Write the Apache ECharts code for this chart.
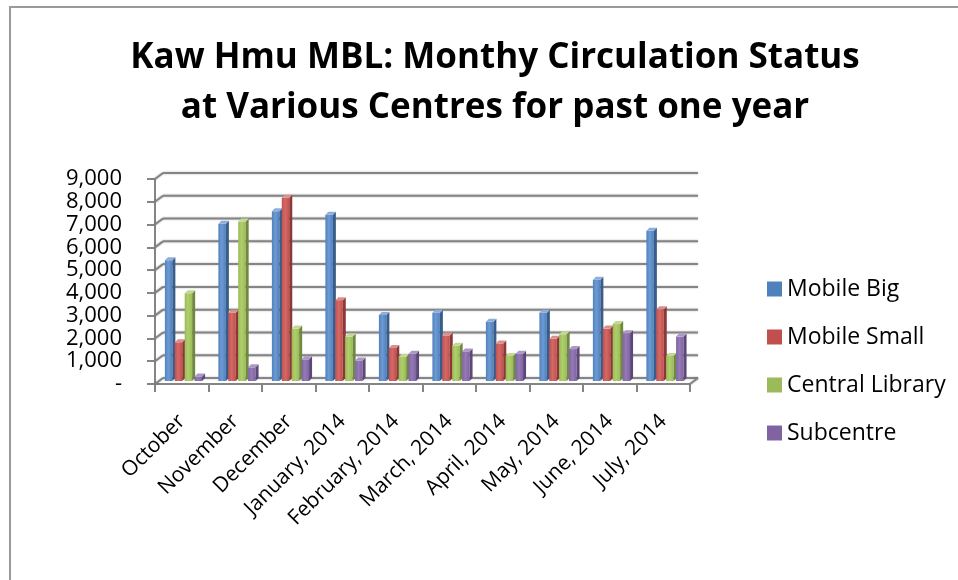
<!DOCTYPE html>
<html>
<head>
<meta charset="utf-8">
<script src="https://cdn.jsdelivr.net/npm/echarts@6/dist/echarts.min.js"></script>
<style>
  html, body { margin: 0; padding: 0; background: #fff; }
  #main { width: 958px; height: 580px; }
</style>
</head>
<body>
<div id="main"></div>
<script>
var categories = ['October', 'November', 'December', 'January, 2014', 'February, 2014',
    'March, 2014', 'April, 2014', 'May, 2014', 'June, 2014', 'July, 2014'];
var mobileBig = [5300, 6900, 7450, 7300, 2900, 3000, 2600, 3000, 4450, 6600];
var mobileSmall = [1700, 3000, 8050, 3550, 1450, 2000, 1650, 1850, 2300, 3150];
var centralLibrary = [3850, 7000, 2300, 1950, 1050, 1550, 1100, 2050, 2500, 1100];
var subcentre = [200, 600, 950, 900, 1200, 1300, 1200, 1400, 2100, 1950];
var yTicks = [0, 1000, 2000, 3000, 4000, 5000, 6000, 7000, 8000, 9000];

var seriesNames = ['Mobile Big', 'Mobile Small', 'Central Library', 'Subcentre'];
var seriesData = [mobileBig, mobileSmall, centralLibrary, subcentre];
// front / side / top / highlight
var palette = [
    ['#4F81BD', '#385D8A', '#8DAEDC', '#6E9AD3'],
    ['#C0504D', '#8C3836', '#DB8F8D', '#D56966'],
    ['#9BBB59', '#71893F', '#C2D894', '#AFCF6C'],
    ['#8064A2', '#5C4776', '#AC98C7', '#957AB8']
];

var FONT = '"Open Sans", "Liberation Sans", sans-serif';
var WALL_DX = 8, WALL_DY = -6;   // depth of the back wall
var BAR_DX = 4, BAR_DY = -3;     // bars sit in the middle of the depth
var BAR_D = 3;                   // depth of a bar

var myChart = echarts.init(document.getElementById('main'));

// walls and gridlines (3d look)
function renderWall(params, api) {
    var v = api.value(1);
    var p = api.coord([0, v]);
    var bw = api.size([1, 0])[0];
    var x0 = p[0] - bw / 2;
    var x1 = x0 + bw * categories.length;
    var y = p[1];
    var st = { stroke: '#858585', lineWidth: 2, shadowBlur: 2, shadowColor: 'rgba(0,0,0,0.3)' };
    var kids = [
        { type: 'line', shape: { x1: x0, y1: y, x2: x0 + WALL_DX, y2: y + WALL_DY }, style: st },
        { type: 'line', shape: { x1: x0 + WALL_DX, y1: y + WALL_DY, x2: x1 + WALL_DX, y2: y + WALL_DY }, style: st }
    ];
    if (v === 0) {
        kids.push({ type: 'line', shape: { x1: x1, y1: y, x2: x1 + WALL_DX, y2: y + WALL_DY }, style: st });
    }
    return { type: 'group', children: kids };
}

function makeBarRender(idx) {
    var c = palette[idx];
    return function (params, api) {
        var ci = api.value(0), v = api.value(1);
        var p0 = api.coord([ci, 0]);
        var p1 = api.coord([ci, v]);
        var bw = api.size([1, 0])[0];
        var w = bw * 0.14;
        var x = p0[0] - bw / 2 + bw * 0.11 + idx * bw * 0.185 + BAR_DX;
        var yb = p0[1] + BAR_DY, yt = p1[1] + BAR_DY;
        var d = BAR_D;
        return {
            type: 'group',
            children: [
                { type: 'rect', shape: { x: x, y: yt, width: w, height: yb - yt },
                  style: { fill: new echarts.graphic.LinearGradient(0, 0, 1, 0, [
                      { offset: 0, color: c[0] }, { offset: 0.45, color: c[3] }, { offset: 1, color: c[0] }]) } },
                { type: 'polygon', shape: { points: [[x + w, yt], [x + w + d, yt - d], [x + w + d, yb - d], [x + w, yb]] },
                  style: { fill: c[1] } },
                { type: 'polygon', shape: { points: [[x, yt], [x + d, yt - d], [x + w + d, yt - d], [x + w, yt]] },
                  style: { fill: c[2] } }
            ]
        };
    };
}

var series = [{
    type: 'custom',
    name: 'walls',
    silent: true,
    clip: false,
    renderItem: renderWall,
    data: yTicks.map(function (t) { return [0, t]; }),
    encode: { x: 0, y: 1 }
}];
seriesNames.forEach(function (n, i) {
    series.push({
        type: 'custom',
        name: n,
        clip: false,
        itemStyle: { color: palette[i][0] },
        renderItem: makeBarRender(i),
        data: seriesData[i].map(function (v, k) { return [k, v]; }),
        encode: { x: 0, y: 1 }
    });
});

var option = {
    animation: false,
    backgroundColor: '#fff',
    title: {
        text: 'Kaw Hmu MBL: Monthy Circulation Status\nat Various Centres for past one year',
        left: 490,
        top: 28,
        textAlign: 'center',
        textStyle: { fontFamily: FONT, fontWeight: 'bold', fontSize: 35, lineHeight: 50, color: '#000' }
    },
    legend: {
        data: seriesNames,
        orient: 'vertical',
        left: 762,
        top: 271,
        icon: 'rect',
        itemWidth: 15,
        itemHeight: 15,
        itemGap: 22,
        textStyle: { fontFamily: FONT, fontSize: 23, color: '#000', lineHeight: 26 }
    },
    graphic: [{
        type: 'rect',
        shape: { x: 10, y: 7, width: 980, height: 620 },
        style: { fill: 'none', stroke: '#9a9a9a', lineWidth: 2 },
        silent: true
    }],
    grid: { left: 155, right: 268, top: 179, bottom: 196 },
    xAxis: {
        type: 'category',
        data: categories,
        axisLine: { lineStyle: { color: '#858585', width: 2 } },
        axisTick: { show: true, length: 8, lineStyle: { color: '#858585', width: 2 } },
        axisLabel: { interval: 0, rotate: 45, margin: 34, fontFamily: FONT, fontSize: 21, color: '#000' },
        splitLine: { show: false }
    },
    yAxis: {
        type: 'value',
        min: 0,
        max: 9000,
        interval: 1000,
        axisLine: { show: true, lineStyle: { color: '#858585', width: 2 } },
        axisTick: { show: true, length: 8, lineStyle: { color: '#858585', width: 2 } },
        axisLabel: {
            margin: 33, fontFamily: FONT, fontSize: 22, color: '#000', lineHeight: 20,
            showMinLabel: true, showMaxLabel: true, hideOverlap: false,
            formatter: function (v) { return v === 0 ? '-' : v.toLocaleString('en-US'); }
        },
        splitLine: { show: false }
    },
    series: series
};
myChart.setOption(option);
</script>
</body>
</html>
